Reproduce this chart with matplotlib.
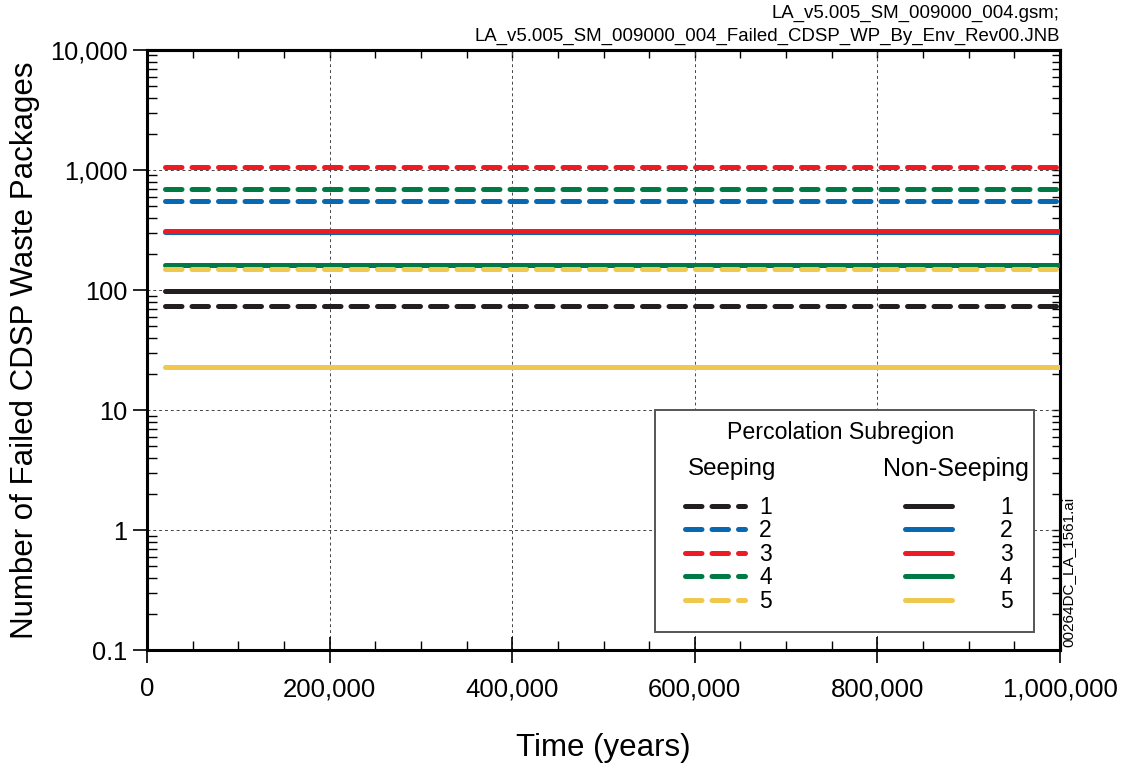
import matplotlib
matplotlib.use("Agg")
import matplotlib.pyplot as plt
from matplotlib.ticker import FixedLocator, MultipleLocator, LogLocator, NullFormatter
from matplotlib.patches import Rectangle

plt.rcParams['font.family'] = ['Liberation Sans', 'DejaVu Sans']

# time span of the (constant) curves
times = [20000, 1000000]

subregions = ['1', '2', '3', '4', '5']
colors = ['#231f20', '#0868b0', '#ed1c24', '#007a45', '#efc84f']

# failed CDSP waste packages per percolation subregion
seeping = [73.5, 552, 1060, 695, 150]
non_seeping = [98, 303, 310, 162, 23]

x_ticks = [0, 200000, 400000, 600000, 800000, 1000000]
x_labels = ['0', '200,000', '400,000', '600,000', '800,000', '1,000,000']
y_ticks = [0.1, 1, 10, 100, 1000, 10000]
y_labels = ['0.1', '1', '10', '100', '1,000', '10,000']

fig = plt.figure(figsize=(11.25, 7.68), dpi=100)
ax = fig.add_axes([0.1307, 0.1536, 0.8115, 0.7813])

lw = 3.6
dash = (3.3, 2.0)

seep_handles = []
nonseep_handles = []
for i in range(len(subregions)):
    h, = ax.plot(times, [non_seeping[i]] * 2, color=colors[i], lw=lw,
                 solid_capstyle='round', zorder=3)
    nonseep_handles.append(h)
for i in range(len(subregions)):
    h, = ax.plot(times, [seeping[i]] * 2, color=colors[i], lw=lw,
                 dashes=dash, dash_capstyle='round', zorder=4)
    seep_handles.append(h)

ax.set_yscale('log')
ax.set_xlim(0, 1000000)
ax.set_ylim(0.1, 10000)

ax.xaxis.set_major_locator(FixedLocator(x_ticks))
ax.set_xticklabels(x_labels, fontsize=18.5)
ax.xaxis.set_minor_locator(MultipleLocator(50000))
ax.yaxis.set_major_locator(FixedLocator(y_ticks))
ax.set_yticklabels(y_labels, fontsize=18.3)
ax.yaxis.set_minor_locator(LogLocator(base=10, subs=range(2, 10), numticks=20))
ax.yaxis.set_minor_formatter(NullFormatter())

ax.tick_params(axis='x', which='major', direction='inout', length=19, width=1.2,
               pad=10, top=False)
ax.tick_params(axis='x', which='minor', direction='in', length=6.5, width=1.0, top=False)
ax.tick_params(axis='y', which='major', direction='out', length=10, width=1.2,
               pad=4, right=False)
ax.tick_params(axis='y', which='minor', direction='in', length=7, width=1.0, right=False)

for s in ax.spines.values():
    s.set_linewidth(2.2)

ax.grid(True, which='major', color='#444444', lw=0.7, ls=(0, (3, 3)), zorder=1)

# ticks on the top and right frame, pointing inward
top = ax.secondary_xaxis('top')
top.xaxis.set_major_locator(FixedLocator(x_ticks))
top.xaxis.set_minor_locator(MultipleLocator(50000))
top.tick_params(which='both', direction='in', length=6, width=1.0, labeltop=False)
top.spines['top'].set_linewidth(2.2)

right = ax.secondary_yaxis('right')
right.yaxis.set_major_locator(FixedLocator(y_ticks))
right.yaxis.set_minor_locator(LogLocator(base=10, subs=range(2, 10), numticks=20))
right.yaxis.set_minor_formatter(NullFormatter())
right.tick_params(which='both', direction='in', length=6, width=1.0, labelright=False)
right.spines['right'].set_linewidth(2.2)

ax.set_xlabel('Time (years)', fontsize=22.5)
ax.xaxis.set_label_coords(0.5, -0.138)
ax.set_ylabel('Number of Failed CDSP Waste Packages', fontsize=22.5)
ax.yaxis.set_label_coords(-0.117, 0.5)

# legend frame, headers and the two grouped legends
ax.add_patch(Rectangle((0.5564, 0.03), 0.4151, 0.37, transform=ax.transAxes,
                       facecolor='white', edgecolor='#555555', lw=1.4, zorder=5))
ax.text(0.760, 0.363, 'Percolation Subregion', transform=ax.transAxes,
        ha='center', va='center', fontsize=16.7, zorder=6)
ax.text(0.5926, 0.3017, 'Seeping', transform=ax.transAxes,
        ha='left', va='center', fontsize=17.4, zorder=6)
ax.text(0.886, 0.3017, 'Non-Seeping', transform=ax.transAxes,
        ha='center', va='center', fontsize=18, zorder=6)

leg1 = ax.legend(seep_handles, subregions, loc='upper left',
                 bbox_to_anchor=(0.589, 0.257), frameon=False, fontsize=16.5,
                 handlelength=2.65, handletextpad=0.6,
                 labelspacing=0.02, borderpad=0, borderaxespad=0)
leg1.set_zorder(7)
ax.add_artist(leg1)
leg2 = ax.legend(nonseep_handles, subregions, loc='upper left',
                 bbox_to_anchor=(0.830, 0.257), frameon=False, fontsize=16.5,
                 handlelength=2.05, handletextpad=2.1,
                 labelspacing=0.02, borderpad=0, borderaxespad=0)
leg2.set_zorder(7)

fig.text(0.942, 0.982, 'LA_v5.005_SM_009000_004.gsm;', ha='right', va='center',
         fontsize=13.4)
fig.text(0.942, 0.953, 'LA_v5.005_SM_009000_004_Failed_CDSP_WP_By_Env_Rev00.JNB',
         ha='right', va='center', fontsize=13.4)
fig.text(0.950, 0.157, '00264DC_LA_1561.ai', rotation=90, ha='center', va='bottom',
         fontsize=11)

fig.savefig('out.png', dpi=100)
